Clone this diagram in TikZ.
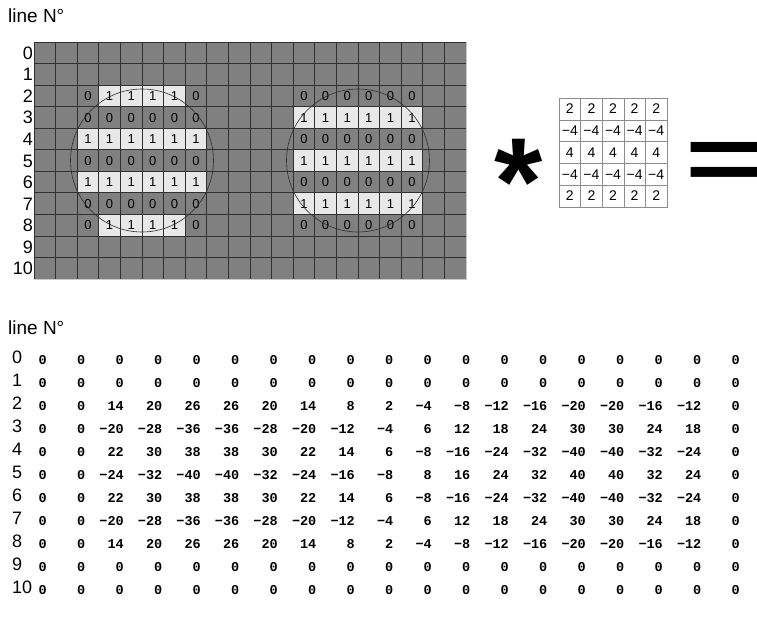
\documentclass[tikz,border=0pt]{standalone}
\usepackage{fontspec}
\setmainfont{Liberation Sans}
\newfontfamily\datafont{Liberation Mono}
\usepackage{graphicx}
\usepackage{tikz}
\usetikzlibrary{positioning}
\usepackage{xcolor}
\definecolor{cellgray}{RGB}{128,128,128}
\definecolor{celllight}{RGB}{232,232,232}
\definecolor{gridink}{RGB}{48,48,48}
\definecolor{rimgray}{RGB}{200,200,200}
\definecolor{kerline}{RGB}{140,140,140}

\begin{document}
\begin{tikzpicture}[
    x=1pt, y=-1pt,
    title/.style={font=\fontsize{19}{19}\selectfont, anchor=base west, inner sep=0pt},
    rowlab/.style={font=\fontsize{18}{18}\selectfont, inner sep=0pt},
    cellnum/.style={font=\fontsize{13}{13}\selectfont, inner sep=0pt, anchor=base},
    kercell/.style={rectangle, draw=kerline, fill=white, line width=0.6pt,
                    minimum width=21.6pt, minimum height=21.8pt, inner sep=0pt,
                    font=\fontsize{14}{14}\selectfont},
    outnum/.style={font=\datafont\bfseries\fontsize{13.5}{13.5}\selectfont,
                   anchor=base east, inner sep=0pt},
    gridline/.style={draw=gridink, line width=0.8pt},
    ring/.style={draw=gridink, line width=0.6pt},
    opsign/.style={font=\bfseries\fontsize{124}{124}\selectfont, inner sep=0pt}
]
\useasboundingbox (0,0) rectangle (757,627);

% input image
\node[title] (top-title) at (8,22) {line N°};
\fill[cellgray] (34,42) rectangle (466,279);
\foreach \vals [count=\r from 2] in {{0,1,1,1,1,0},{0,0,0,0,0,0},{1,1,1,1,1,1},
    {0,0,0,0,0,0},{1,1,1,1,1,1},{0,0,0,0,0,0},{0,1,1,1,1,0}} {
  \foreach \v [count=\c from 2] in \vals {
    \ifnum\v=1
      \fill[celllight] ({34+\c*21.6},{42+\r*21.545}) rectangle ++(21.6,21.545);
    \fi
    \node[cellnum] (a-\r-\c) at ({34+(\c+.5)*21.6},{42+(\r+.5)*21.545+4.7}) {\v};
  }
}
\foreach \vals [count=\r from 2] in {{0,0,0,0,0,0},{1,1,1,1,1,1},{0,0,0,0,0,0},
    {1,1,1,1,1,1},{0,0,0,0,0,0},{1,1,1,1,1,1},{0,0,0,0,0,0}} {
  \foreach \v [count=\c from 12] in \vals {
    \ifnum\v=1
      \fill[celllight] ({34+\c*21.6},{42+\r*21.545}) rectangle ++(21.6,21.545);
    \fi
    \node[cellnum] (b-\r-\c) at ({34+(\c+.5)*21.6},{42+(\r+.5)*21.545+4.7}) {\v};
  }
}
\foreach \c in {0,...,20}
  \draw[gridline] ({34+\c*21.6},42) -- ({34+\c*21.6},279);
\foreach \r in {0,...,11}
  \draw[gridline] (34,{42+\r*21.545}) -- (466,{42+\r*21.545});
\draw[rimgray, line width=1pt] (466.8,42) -- (466.8,279.8) -- (34,279.8);
\draw[ring] (142,160.5) circle[radius=71.5];
\draw[ring] (358,160.5) circle[radius=71.5];
\foreach \r in {0,...,10}
  \node[rowlab, anchor=base east] (t-\r) at (33,{42+(\r+.5)*21.545+6.5}) {\r};

% kernel
\node[opsign] (conv) at (519,182) {*};
\foreach \vals [count=\j from 0] in {{2,2,2,2,2},{−4,−4,−4,−4,−4},{4,4,4,4,4},
    {−4,−4,−4,−4,−4},{2,2,2,2,2}} {
  \foreach \v [count=\i from 0] in \vals
    \node[kercell] (k-\j-\i) at ({559+(\i+.5)*21.6},{98+(\j+.5)*21.8}) {\v};
}
\node[opsign, anchor=west] (eq) at (685,166.5) {\scalebox{1.1}[0.745]{=}};

% result
\node[title] (bot-title) at (8,334) {line N°};
\foreach \vals [count=\r from 0] in {
    {0,0,0,0,0,0,0,0,0,0,0,0,0,0,0,0,0,0,0},
    {0,0,0,0,0,0,0,0,0,0,0,0,0,0,0,0,0,0,0},
    {0,0,14,20,26,26,20,14,8,2,−4,−8,−12,−16,−20,−20,−16,−12,0},
    {0,0,−20,−28,−36,−36,−28,−20,−12,−4,6,12,18,24,30,30,24,18,0},
    {0,0,22,30,38,38,30,22,14,6,−8,−16,−24,−32,−40,−40,−32,−24,0},
    {0,0,−24,−32,−40,−40,−32,−24,−16,−8,8,16,24,32,40,40,32,24,0},
    {0,0,22,30,38,38,30,22,14,6,−8,−16,−24,−32,−40,−40,−32,−24,0},
    {0,0,−20,−28,−36,−36,−28,−20,−12,−4,6,12,18,24,30,30,24,18,0},
    {0,0,14,20,26,26,20,14,8,2,−4,−8,−12,−16,−20,−20,−16,−12,0},
    {0,0,0,0,0,0,0,0,0,0,0,0,0,0,0,0,0,0,0},
    {0,0,0,0,0,0,0,0,0,0,0,0,0,0,0,0,0,0,0}} {
  \node[rowlab, anchor=base west] (r-\r) at (12,{363+\r*23}) {\r};
  \foreach \v [count=\c from 0] in \vals
    \node[outnum] (o-\r-\c) at ({47+\c*38.5},{364+\r*23}) {\v};
}

\end{tikzpicture}
\end{document}
